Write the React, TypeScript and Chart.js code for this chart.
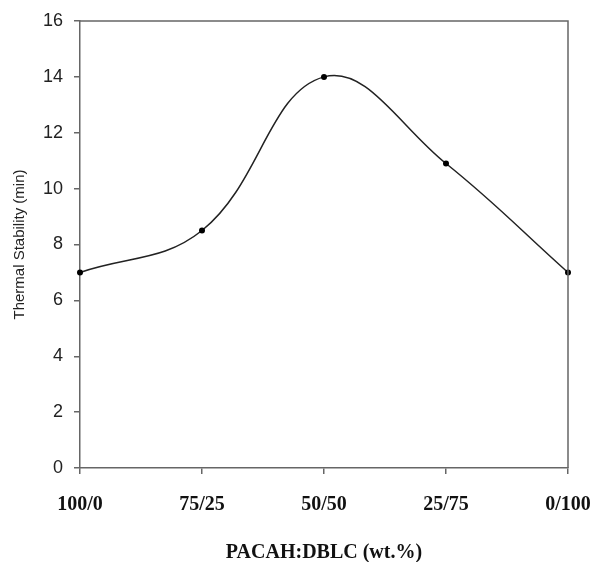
import React, { useEffect, useRef } from "react";
import { Chart, registerables } from "chart.js";

Chart.register(...registerables);

const categories = ["100/0", "75/25", "50/50", "25/75", "0/100"];
const stability = [7.0, 8.5, 14.0, 10.9, 7.0];
const yTicks = [0, 2, 4, 6, 8, 10, 12, 14, 16];
const xTitle = "PACAH:DBLC (wt.%)";
const yTitle = "Thermal Stability (min)";

const framePlugin = {
  id: "frame",
  afterDraw(chart: any) {
    const { ctx, chartArea } = chart;
    ctx.save();
    ctx.strokeStyle = "#666";
    ctx.lineWidth = 1.5;
    ctx.beginPath();
    ctx.moveTo(chartArea.left, chartArea.top);
    ctx.lineTo(chartArea.right, chartArea.top);
    ctx.lineTo(chartArea.right, chartArea.bottom);
    ctx.stroke();
    ctx.restore();
  },
};

export default function App() {
  const ref = useRef<HTMLCanvasElement>(null);
  useEffect(() => {
    if (!ref.current) return;
    const chart = new Chart(ref.current, {
      type: "line",
      data: {
        labels: categories,
        datasets: [
          {
            data: stability,
            borderColor: "#222",
            borderWidth: 1.5,
            pointRadius: 3,
            pointBackgroundColor: "#000",
            pointBorderColor: "#000",
            pointBorderWidth: 0,
            tension: 0.4,
            fill: false,
            clip: false as any,
          },
        ],
      },
      options: {
        responsive: false,
        animation: false,
        layout: { padding: { top: 21, right: 25, left: 0, bottom: 0 } },
        plugins: { legend: { display: false }, tooltip: { enabled: false } },
        scales: {
          x: {
            type: "category",
            offset: false,
            grid: { drawOnChartArea: false, drawTicks: true, tickLength: 6, color: "#666", lineWidth: 1.5 },
            border: { display: true, color: "#666", width: 1.5 },
            ticks: {
              font: { family: "'Liberation Serif', 'Times New Roman', serif", size: 20, weight: "bold" },
              color: "#111",
              padding: 19,
              maxRotation: 0,
              autoSkip: false,
            },
            title: {
              display: true,
              text: xTitle,
              font: { family: "'Liberation Serif', 'Times New Roman', serif", size: 20, weight: "bold", lineHeight: 0.9 },
              color: "#111",
              padding: { top: 0, bottom: 0 },
            },
            afterFit: (s: any) => {
              s.height = 94;
              s.paddingLeft = 0;
              s.paddingRight = 0;
            },
          },
          y: {
            min: 0,
            max: 16,
            afterBuildTicks: (s: any) => {
              s.ticks = yTicks.map((v) => ({ value: v }));
            },
            grid: { drawOnChartArea: false, drawTicks: true, tickLength: 6, color: "#666", lineWidth: 1.5 },
            border: { display: true, color: "#666", width: 1.5 },
            ticks: {
              font: { family: "'Liberation Sans', Arial, sans-serif", size: 18 },
              color: "#222",
              padding: 11,
            },
            title: {
              display: true,
              text: yTitle,
              font: { family: "'Liberation Sans', Arial, sans-serif", size: 15 },
              color: "#222",
              padding: { top: 11, bottom: 0 },
            },
            afterFit: (s: any) => {
              s.width = 80;
              s.paddingTop = 0;
              s.paddingBottom = 0;
            },
          },
        },
      },
      plugins: [framePlugin],
    });
    return () => chart.destroy();
  }, []);
  return (
    <div style={{ position: "absolute", left: 0, top: 0, width: 593, height: 562, background: "#fff" }}>
      <canvas ref={ref} width={593} height={562} />
    </div>
  );
}
